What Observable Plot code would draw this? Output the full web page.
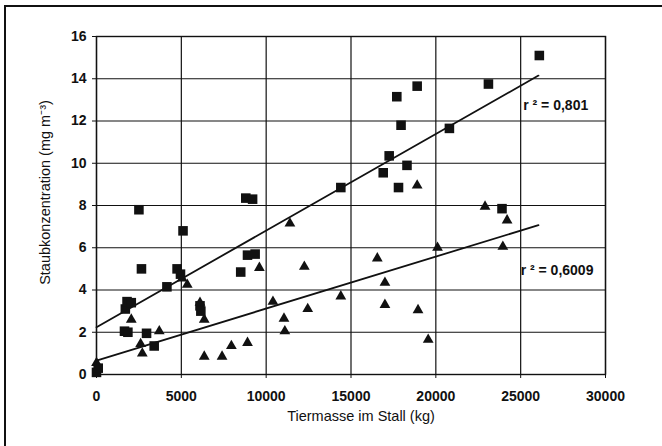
<!DOCTYPE html>
<html>
<head>
<meta charset="utf-8">
<script src="https://cdn.jsdelivr.net/npm/d3@7"></script>
<script src="https://cdn.jsdelivr.net/npm/@observablehq/plot@0.6"></script>
<style>
  html, body { margin: 0; padding: 0; background: #fff; overflow: hidden; }
  #wrap { position: relative; width: 662px; height: 446px; overflow: hidden; }
  .edge { position: absolute; background: #111; pointer-events: none; }
  #edge-top { left: 4px; top: 5px; width: 658px; height: 1.5px; }
  #edge-left { left: 4px; top: 5px; width: 1.5px; height: 441px; }
  svg { font-family: "Liberation Sans", Arial, sans-serif; }
</style>
</head>
<body>
<div id="wrap"><span class="edge" id="edge-top"></span><span class="edge" id="edge-left"></span></div>
<script>
// Tiermasse (kg) and Staubkonzentration (mg m-3), series 1 (squares)
const squareMass = [0, 100, 1650, 1850, 1700, 1800, 2050, 2500, 2650, 2950, 3400, 4150, 4750, 4950, 5100,
  6100, 6150, 8500, 8800, 9200, 8900, 9350, 14400, 16900, 17250, 17700, 17800, 17950, 18300, 18900,
  20800, 23100, 23900, 26100];
const squareDust = [0.1, 0.3, 2.05, 2.0, 3.1, 3.45, 3.4, 7.8, 5.0, 1.95, 1.35, 4.15, 5.0, 4.75, 6.8,
  3.25, 3.0, 4.85, 8.35, 8.3, 5.65, 5.7, 8.85, 9.55, 10.35, 13.15, 8.85, 11.8, 9.9, 13.65,
  11.65, 13.75, 7.85, 15.1];

// series 2 (triangles)
const triMass = [0, 2050, 2600, 2700, 3700, 5050, 5350, 6100, 6350, 6350, 7400, 7950, 8900, 9600, 10400,
  11050, 11100, 11400, 12250, 12450, 14400, 16550, 17000, 17000, 18900, 18950, 19550, 20100, 22900,
  23950, 24200];
const triDust = [0.55, 2.6, 1.45, 1.0, 2.05, 4.55, 4.25, 3.4, 2.6, 0.85, 0.85, 1.35, 1.5, 5.05, 3.45,
  2.65, 2.05, 7.15, 5.1, 3.1, 3.7, 5.5, 4.35, 3.3, 8.95, 3.05, 1.65, 6.0, 7.95,
  6.05, 7.3];

// linear fits (end points) and their coefficients of determination
const fitMass = [0, 26050];
const squareFit = [2.24, 14.15];
const triFit = [0.66, 7.07];
const r2Labels = ["r \u00B2 = 0,801", "r \u00B2 = 0,6009"];

const xTicks = [0, 5000, 10000, 15000, 20000, 25000, 30000];
const yTicks = [0, 2, 4, 6, 8, 10, 12, 14, 16];

const squares = squareMass.map((m, i) => ({mass: m, dust: squareDust[i]}));
const triangles = triMass.map((m, i) => ({mass: m, dust: triDust[i]}));
const lineSq = fitMass.map((m, i) => ({mass: m, dust: squareFit[i]}));
const lineTri = fitMass.map((m, i) => ({mass: m, dust: triFit[i]}));

const chart = Plot.plot({
  width: 662,
  height: 446,
  marginLeft: 96,
  marginRight: 57,
  marginTop: 36,
  marginBottom: 72,
  style: {fontSize: "14px", fontFamily: "Liberation Sans, Arial, sans-serif", color: "#111", background: "#fff"},
  x: {domain: [0, 30000]},
  y: {domain: [0, 16]},
  marks: [
    Plot.gridX(xTicks, {stroke: "#111", strokeOpacity: 1, strokeWidth: 1.2}),
    Plot.gridY(yTicks, {stroke: "#111", strokeOpacity: 1, strokeWidth: 1.2}),
    Plot.frame({stroke: "#111", strokeWidth: 1.4}),
    Plot.axisX(xTicks, {tickSize: 4, tickPadding: 13, tickFormat: d3.format("d"), label: null, fontWeight: "bold"}),
    Plot.axisY(yTicks, {tickSize: 4, tickPadding: 6, tickFormat: d3.format("d"), label: null, fontWeight: "bold"}),
    Plot.line(lineSq, {x: "mass", y: "dust", stroke: "#111", strokeWidth: 1.8}),
    Plot.line(lineTri, {x: "mass", y: "dust", stroke: "#111", strokeWidth: 1.8}),
    Plot.dot(squares, {x: "mass", y: "dust", symbol: "square", r: 5.4, fill: "#111", stroke: null}),
    Plot.dot(triangles, {x: "mass", y: "dust", symbol: "triangle", r: 4.0, fill: "#111", stroke: null}),
    Plot.text([r2Labels[0]], {x: 25150, y: 12.75, text: d => d, textAnchor: "start", fill: "#111", fontWeight: "bold", fontSize: 14}),
    Plot.text([r2Labels[1]], {x: 25000, y: 4.9, text: d => d, textAnchor: "start", fill: "#111", fontWeight: "bold", fontSize: 14}),
    Plot.text(["Tiermasse im Stall (kg)"], {frameAnchor: "bottom", dx: 10, dy: 46, text: d => d, fill: "#111", fontSize: 14.5}),
    Plot.text(["Staubkonzentration (mg m\u207B\u00B3)"], {frameAnchor: "left", textAnchor: "middle", dx: -51, dy: -13, rotate: -90, text: d => d, fill: "#111", fontSize: 14.5})
  ]
});
document.getElementById("wrap").prepend(chart);
</script>
</body>
</html>
